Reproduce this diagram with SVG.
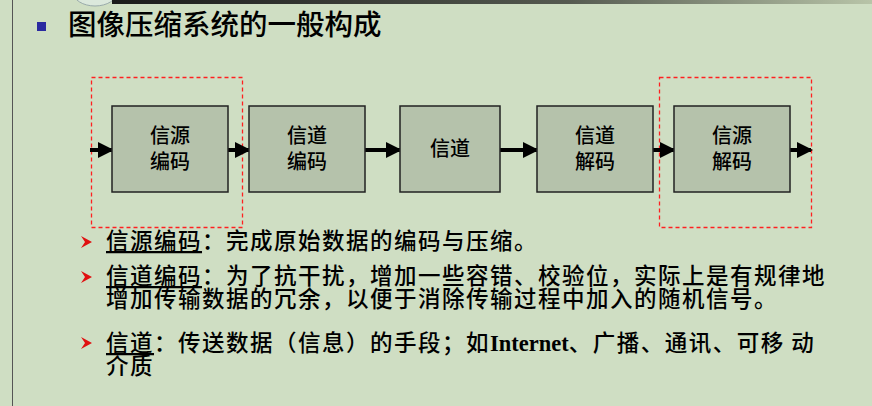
<svg xmlns="http://www.w3.org/2000/svg" width="872" height="406" viewBox="0 0 872 406">
<defs>
<linearGradient id="bar" x1="0" x2="1" y1="0" y2="0"><stop offset="0" stop-color="#1a1a1a"/><stop offset="0.6" stop-color="#555a50"/><stop offset="1" stop-color="#b8c4a8"/></linearGradient>
<marker id="ah" markerWidth="4" markerHeight="4" refX="3.5" refY="2" orient="auto" markerUnits="strokeWidth"><path d="M0,0 L4,2 L0,4 Z" fill="#000"/></marker>
</defs>
<style>
.t{font-family:"Noto Sans CJK SC","Liberation Serif",serif;fill:#000;font-weight:500}
.box{fill:#b5c2ab;stroke:#222;stroke-width:1.5}
.dash{fill:none;stroke:#ff2020;stroke-width:1.3;stroke-dasharray:4,3}
.c{stroke:#000;stroke-width:4;fill:none;marker-end:url(#ah)}
.bt{font-size:20px;text-anchor:middle}
.p{font-size:22.5px;letter-spacing:1.5px}
</style>
<rect width="872" height="406" fill="#cfdec3"/>
<line x1="12.5" y1="0" x2="12.5" y2="406" stroke="#555" stroke-width="1"/>
<ellipse cx="95" cy="-8" rx="22" ry="14" fill="#dbe8dc" stroke="#9aa" stroke-width="1"/>
<rect x="112" y="0" width="760" height="4" fill="url(#bar)"/>
<rect x="37" y="22" width="9" height="9" fill="#2a2aa0"/>
<text class="t" x="68" y="35" font-size="28.5">图像压缩系统的一般构成</text>
<rect class="dash" x="91.5" y="77.5" width="151" height="150"/>
<rect class="dash" x="659.5" y="77.5" width="152" height="150"/>
<g id="connectors">
<line class="c" x1="90" y1="150" x2="112" y2="150"/>
<line class="c" x1="228" y1="150" x2="249" y2="150"/>
<line class="c" x1="365" y1="150" x2="400" y2="150"/>
<line class="c" x1="500" y1="150" x2="537" y2="150"/>
<line class="c" x1="653" y1="150" x2="674" y2="150"/>
<line class="c" x1="790" y1="150" x2="811" y2="150"/>
</g>
<g id="n1"><rect class="box" x="112" y="106" width="116" height="86"/><text class="t bt" x="170" y="143">信源</text><text class="t bt" x="170" y="169">编码</text></g>
<g id="n2"><rect class="box" x="249" y="106" width="116" height="86"/><text class="t bt" x="307" y="143">信道</text><text class="t bt" x="307" y="169">编码</text></g>
<g id="n3"><rect class="box" x="400" y="106" width="100" height="86"/><text class="t bt" x="450" y="156">信道</text></g>
<g id="n4"><rect class="box" x="537" y="106" width="116" height="86"/><text class="t bt" x="595" y="143">信道</text><text class="t bt" x="595" y="169">解码</text></g>
<g id="n5"><rect class="box" x="674" y="106" width="116" height="86"/><text class="t bt" x="732" y="143">信源</text><text class="t bt" x="732" y="169">解码</text></g>
<g fill="#e01010">
<path d="M81,236 L92,242 L81,248 L85,242 Z"/>
<path d="M81,271 L92,277 L81,283 L85,277 Z"/>
<path d="M81,337 L92,343 L81,349 L85,343 Z"/>
</g>
<text class="t p" x="106" y="249"><tspan text-decoration="underline">信源编码</tspan>：完成原始数据的编码与压缩。</text>
<text class="t p" x="106" y="284"><tspan text-decoration="underline">信道编码</tspan>：为了抗干扰，增加一些容错、校验位，实际上是有规律地</text>
<text class="t p" x="106" y="307">增加传输数据的冗余，以便于消除传输过程中加入的随机信号。</text>
<text class="t p" x="106" y="351"><tspan text-decoration="underline">信道</tspan>：传送数据（信息）的手段；如<tspan font-family="Liberation Serif" font-weight="bold" letter-spacing="0">Internet</tspan>、广播、通讯、可移 动</text>
<text class="t p" x="106" y="374">介质</text>
</svg>
